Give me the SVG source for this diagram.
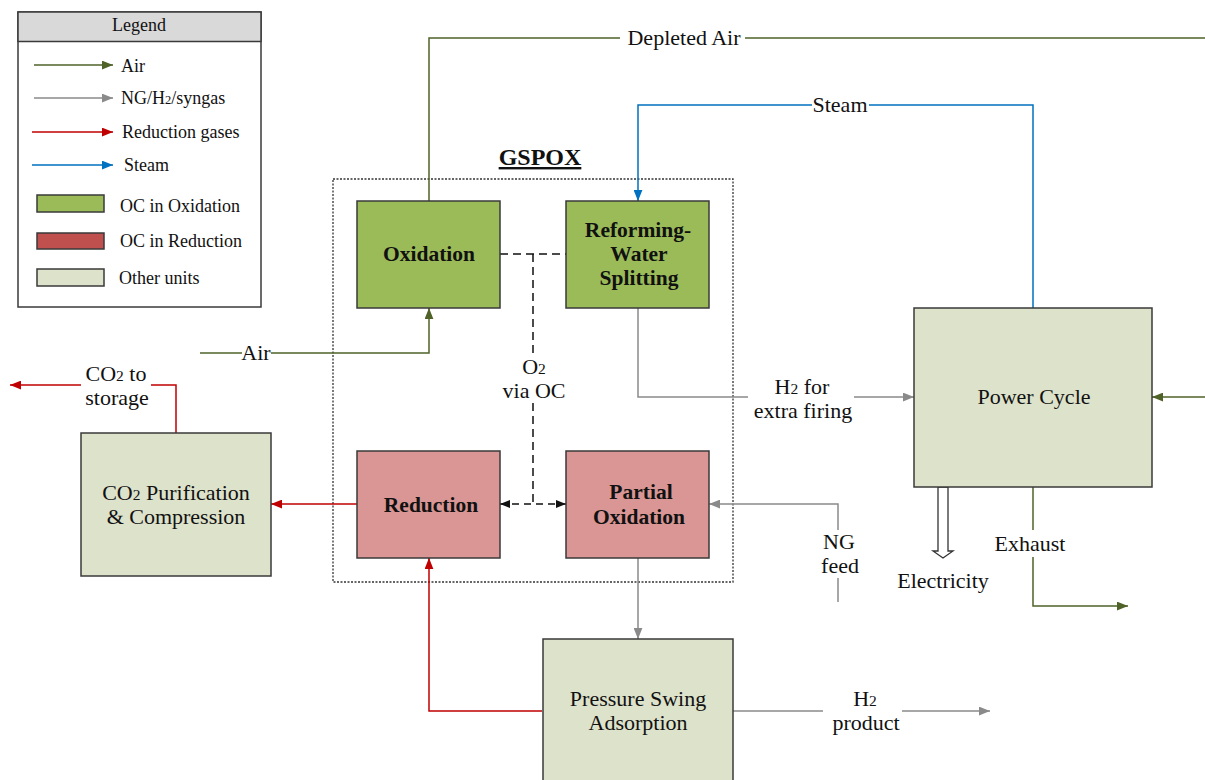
<svg xmlns="http://www.w3.org/2000/svg" width="1205" height="780" viewBox="0 0 1205 780" font-family="'Liberation Serif', 'Times New Roman', serif">
<defs>
<style>
text{fill:#111}
.t{font-size:22px;text-anchor:middle}
.b{font-size:21.5px;font-weight:bold;text-anchor:middle}
.lg{font-size:18px}
.box{stroke:#3a3a3a;stroke-width:1.5}
.ox{fill:#9bbb59}
.rd{fill:#d99694}
.ot{fill:#dde2cb}
.ln{fill:none;stroke-width:1.5}
.g{stroke:#4f6228}
.y{stroke:#8a8a8a}
.r{stroke:#c00000}
.u{stroke:#0070c0}
.k{stroke:#111;stroke-dasharray:8 5}
</style>
<marker id="ag" viewBox="0 0 10 8" refX="10" refY="4" markerWidth="11" markerHeight="9" markerUnits="userSpaceOnUse" orient="auto"><path d="M0,0 L10,4 L0,8 Z" fill="#4f6228"/></marker>
<marker id="ay" viewBox="0 0 10 8" refX="10" refY="4" markerWidth="11" markerHeight="9" markerUnits="userSpaceOnUse" orient="auto"><path d="M0,0 L10,4 L0,8 Z" fill="#8a8a8a"/></marker>
<marker id="ar" viewBox="0 0 10 8" refX="10" refY="4" markerWidth="11" markerHeight="9" markerUnits="userSpaceOnUse" orient="auto"><path d="M0,0 L10,4 L0,8 Z" fill="#c00000"/></marker>
<marker id="au" viewBox="0 0 10 8" refX="10" refY="4" markerWidth="11" markerHeight="9" markerUnits="userSpaceOnUse" orient="auto"><path d="M0,0 L10,4 L0,8 Z" fill="#0070c0"/></marker>
<marker id="ak" viewBox="0 0 10 8" refX="10" refY="4" markerWidth="10" markerHeight="9" markerUnits="userSpaceOnUse" orient="auto-start-reverse"><path d="M0,0 L10,4 L0,8 Z" fill="#111"/></marker>
</defs>
<rect width="1205" height="780" fill="#fff"/>

<g id="legend">
<rect x="18" y="12" width="243" height="295" fill="#fff" stroke="#3a3a3a" stroke-width="1.5"/>
<rect x="18" y="12" width="243" height="29.5" fill="#d9d9d9" stroke="#3a3a3a" stroke-width="1.5"/>
<text x="139" y="31" class="lg" text-anchor="middle">Legend</text>
<line x1="34" y1="65" x2="113" y2="65" class="ln g" marker-end="url(#ag)"/>
<text x="121" y="72" class="lg">Air</text>
<line x1="34" y1="98" x2="113" y2="98" class="ln y" marker-end="url(#ay)"/>
<text x="121" y="104" class="lg">NG/H<tspan font-size="12.5">2</tspan>/syngas</text>
<line x1="32" y1="132" x2="113" y2="132" class="ln r" marker-end="url(#ar)"/>
<text x="122" y="138" class="lg">Reduction gases</text>
<line x1="32" y1="165" x2="113" y2="165" class="ln u" marker-end="url(#au)"/>
<text x="124" y="171" class="lg">Steam</text>
<rect x="37" y="195" width="67" height="17" class="box ox"/>
<text x="120" y="212" class="lg">OC in Oxidation</text>
<rect x="37" y="233" width="67" height="16" fill="#c0504d" class="box"/>
<text x="120" y="247" class="lg">OC in Reduction</text>
<rect x="37" y="269" width="67" height="17" class="box ot"/>
<text x="119" y="284" class="lg">Other units</text>
</g>

<g id="gspox">
<rect x="333" y="179" width="400" height="403" fill="none" stroke="#333" stroke-width="1.3" stroke-dasharray="2 1.5"/>
<text x="540" y="165" font-size="24" font-weight="bold" text-anchor="middle" text-decoration="underline">GSPOX</text>
</g>

<g id="connectors">
<polyline points="429,201 429,38 620,38" class="ln g"/>
<line x1="745" y1="38" x2="1205" y2="38" class="ln g"/>
<line x1="200" y1="353" x2="242" y2="353" class="ln g"/>
<polyline points="271,353 429,353 429,308" class="ln g" marker-end="url(#ag)"/>
<polyline points="1033,308 1033,105 869,105" class="ln u"/>
<polyline points="812,105 638,105 638,201" class="ln u" marker-end="url(#au)"/>
<polyline points="638,308 638,397 748,397" class="ln y"/>
<line x1="854" y1="397" x2="914" y2="397" class="ln y" marker-end="url(#ay)"/>
<line x1="1205" y1="397" x2="1152" y2="397" class="ln g" marker-end="url(#ag)"/>
<line x1="1033" y1="487" x2="1033" y2="530" class="ln g"/>
<polyline points="1033,557 1033,606 1128,606" class="ln g" marker-end="url(#ag)"/>
<polygon points="938,487 948,487 948,551 953,551 943,558 933,551 938,551" fill="#fff" stroke="#333" stroke-width="1.3"/>
<line x1="838" y1="602" x2="838" y2="578" class="ln y"/>
<polyline points="838,530 838,504 709,504" class="ln y" marker-end="url(#ay)"/>
<line x1="638" y1="558" x2="638" y2="639" class="ln y" marker-end="url(#ay)"/>
<line x1="733" y1="711" x2="823" y2="711" class="ln y"/>
<line x1="902" y1="711" x2="990" y2="711" class="ln y" marker-end="url(#ay)"/>
<polyline points="542,711 429,711 429,558" class="ln r" marker-end="url(#ar)"/>
<line x1="357" y1="504" x2="271" y2="504" class="ln r" marker-end="url(#ar)"/>
<polyline points="176,433 176,385 151,385" class="ln r"/>
<line x1="81" y1="385" x2="10" y2="385" class="ln r" marker-end="url(#ar)"/>
<line x1="500" y1="254" x2="566" y2="254" class="ln k"/>
<line x1="533" y1="254" x2="533" y2="353" class="ln k"/>
<line x1="533" y1="403" x2="533" y2="504" class="ln k"/>
<line x1="500" y1="504" x2="566" y2="504" class="ln" stroke="#111" stroke-dasharray="7 5" marker-start="url(#ak)" marker-end="url(#ak)"/>
</g>

<g id="labels">
<text x="684" y="45" class="t">Depleted Air</text>
<text x="256" y="360" class="t">Air</text>
<text x="840" y="112" class="t">Steam</text>
<text x="802" y="394" class="t">H<tspan font-size="15.5">2</tspan> for</text>
<text x="803" y="418" class="t">extra firing</text>
<text x="1030" y="551" class="t">Exhaust</text>
<text x="943" y="588" class="t">Electricity</text>
<text x="839" y="549" class="t">NG</text>
<text x="840" y="573" class="t">feed</text>
<text x="865" y="706" class="t">H<tspan font-size="15.5">2</tspan></text>
<text x="866" y="730" class="t">product</text>
<text x="116" y="381" class="t">CO<tspan font-size="15.5">2</tspan> to</text>
<text x="117" y="405" class="t">storage</text>
<text x="534" y="374" class="t">O<tspan font-size="15.5">2</tspan></text>
<text x="534" y="398" class="t">via OC</text>
</g>

<g id="oxidation">
<rect x="357" y="201" width="143" height="107" class="box ox"/>
<text x="429" y="261" class="b">Oxidation</text>
</g>
<g id="reforming">
<rect x="566" y="201" width="143" height="107" class="box ox"/>
<text x="638" y="237" class="b">Reforming-</text>
<text x="639" y="261" class="b">Water</text>
<text x="639" y="285" class="b">Splitting</text>
</g>
<g id="reduction">
<rect x="357" y="451" width="143" height="107" class="box rd"/>
<text x="431" y="512" class="b">Reduction</text>
</g>
<g id="partial-oxidation">
<rect x="566" y="451" width="143" height="107" class="box rd"/>
<text x="641" y="499" class="b">Partial</text>
<text x="639" y="524" class="b">Oxidation</text>
</g>
<g id="power-cycle">
<rect x="914" y="308" width="238" height="179" class="box ot"/>
<text x="1034" y="404" class="t">Power Cycle</text>
</g>
<g id="co2-purification">
<rect x="81" y="433" width="190" height="143" class="box ot"/>
<text x="176" y="500" class="t">CO<tspan font-size="15.5">2</tspan> Purification</text>
<text x="176" y="524" class="t">&amp; Compression</text>
</g>
<g id="psa">
<rect x="543" y="639" width="190" height="150" class="box ot"/>
<text x="638" y="706" class="t">Pressure Swing</text>
<text x="638" y="730" class="t">Adsorption</text>
</g>
</svg>
